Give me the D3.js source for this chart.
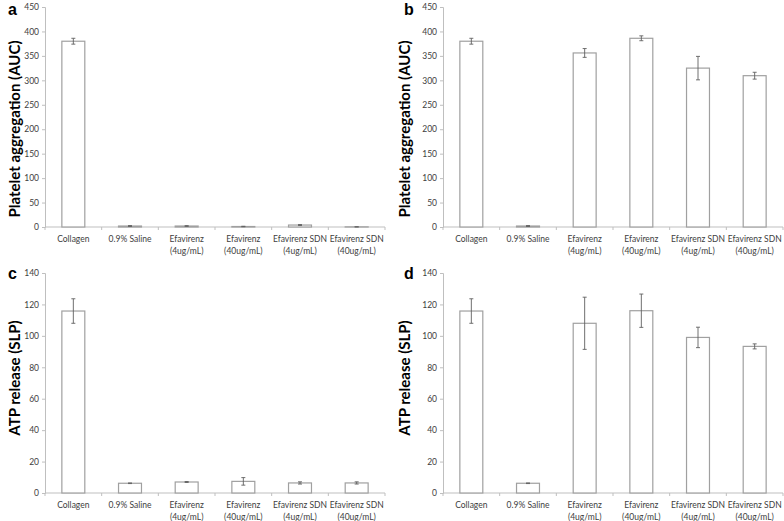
<!DOCTYPE html>
<html>
<head>
<meta charset="utf-8">
<script src="https://cdn.jsdelivr.net/npm/d3@7/dist/d3.min.js"></script>
<style>
  html, body { margin: 0; padding: 0; background: #fff; }
  svg { display: block; }
</style>
</head>
<body>
<svg id="chart" width="784" height="521"></svg>
<script>
// ---- Data ----
const categories = [
  ["Collagen"],
  ["0.9% Saline"],
  ["Efavirenz", "(4ug/mL)"],
  ["Efavirenz", "(40ug/mL)"],
  ["Efavirenz SDN", "(4ug/mL)"],
  ["Efavirenz SDN", "(40ug/mL)"]
];
const aggregationA = [380, 2, 2, 1, 4, 0.3];
const aggregationAErr = [6, 1, 0.8, 0.5, 1, 0.2];
const aggregationB = [380, 2, 356, 386, 325, 309.5];
const aggregationBErr = [6, 1, 9, 5, 24, 7];
const atpC = [115.8, 6.2, 7, 7.4, 6.4, 6.4];
const atpCErr = [7.8, 0.2, 0.3, 2.4, 0.7, 0.7];
const atpD = [115.8, 6.2, 108, 116, 99, 93.3];
const atpDErr = [7.8, 0.2, 16.6, 10.6, 6.5, 1.6];
const aggTicks = [0, 50, 100, 150, 200, 250, 300, 350, 400, 450];
const atpTicks = [0, 20, 40, 60, 80, 100, 120, 140];
const aggTitle = "Platelet aggregation (AUC)";
const atpTitle = "ATP release (SLP)";

// ---- Drawing ----
const svg = d3.select("#chart");
const FONT = "Lato, 'Liberation Sans', Arial, sans-serif";
const panels = [
  {letter: "a", values: aggregationA, errs: aggregationAErr, ticks: aggTicks, title: aggTitle,
   left: 45, right: 385, top: 7, bottom: 227, titleX: 15, titleY: 129, letterX: 8, letterY: 15},
  {letter: "b", values: aggregationB, errs: aggregationBErr, ticks: aggTicks, title: aggTitle,
   left: 443, right: 783, top: 7, bottom: 227, titleX: 405, titleY: 129, letterX: 404, letterY: 15},
  {letter: "c", values: atpC, errs: atpCErr, ticks: atpTicks, title: atpTitle,
   left: 45, right: 385, top: 273, bottom: 493, titleX: 15, titleY: 378, letterX: 8, letterY: 279},
  {letter: "d", values: atpD, errs: atpDErr, ticks: atpTicks, title: atpTitle,
   left: 443, right: 783, top: 273, bottom: 493, titleX: 405, titleY: 378, letterX: 404, letterY: 279}
];

panels.forEach(p => {
  const g = svg.append("g");
  const keys = categories.map(c => c.join(" "));
  const pad = 0.595;
  const x = d3.scaleBand().domain(keys).range([p.left, p.right])
    .paddingInner(pad).paddingOuter(pad / 2);
  const y = d3.scaleLinear().domain([0, d3.max(p.ticks)]).range([p.bottom, p.top]);
  const step = x.step();

  // y axis
  const yAxis = d3.axisLeft(y).tickValues(p.ticks).tickSize(3).tickPadding(3);
  const ya = g.append("g").attr("transform", `translate(${p.left},0)`).call(yAxis);
  ya.select(".domain").attr("stroke", "#bfbfbf");
  ya.selectAll(".tick line").attr("stroke", "#bfbfbf");
  ya.selectAll(".tick text").attr("fill", "#404040").style("font-family", FONT).style("font-size", "8.5px");

  // x axis line + boundary ticks
  g.append("line").attr("x1", p.left).attr("x2", p.right).attr("y1", p.bottom).attr("y2", p.bottom)
    .attr("stroke", "#bfbfbf");
  d3.range(categories.length + 1).forEach(i => {
    const xx = p.left + i * step;
    g.append("line").attr("x1", xx).attr("x2", xx).attr("y1", p.bottom).attr("y2", p.bottom + 3)
      .attr("stroke", "#bfbfbf");
  });

  // bars
  g.selectAll("rect.bar").data(p.values).enter().append("rect")
    .attr("class", "bar")
    .attr("x", (d, i) => x(keys[i]))
    .attr("width", x.bandwidth())
    .attr("y", d => y(d))
    .attr("height", d => p.bottom - y(d))
    .attr("fill", "#fff")
    .attr("stroke", "#a0a0a0")
    .attr("stroke-width", 1.2);

  // error bars
  const eg = g.selectAll("g.err").data(p.values).enter().append("g").attr("class", "err");
  const cx = i => x(keys[i]) + x.bandwidth() / 2;
  eg.append("line")
    .attr("x1", (d, i) => cx(i)).attr("x2", (d, i) => cx(i))
    .attr("y1", (d, i) => y(d + p.errs[i])).attr("y2", (d, i) => y(Math.max(0, d - p.errs[i])))
    .attr("stroke", "#606060").attr("stroke-width", 0.9);
  eg.append("line")
    .attr("x1", (d, i) => cx(i) - 2).attr("x2", (d, i) => cx(i) + 2)
    .attr("y1", (d, i) => y(d + p.errs[i])).attr("y2", (d, i) => y(d + p.errs[i]))
    .attr("stroke", "#606060").attr("stroke-width", 0.9);
  eg.append("line")
    .attr("x1", (d, i) => cx(i) - 2).attr("x2", (d, i) => cx(i) + 2)
    .attr("y1", (d, i) => y(Math.max(0, d - p.errs[i]))).attr("y2", (d, i) => y(Math.max(0, d - p.errs[i])))
    .attr("stroke", "#606060").attr("stroke-width", 0.9);

  // category labels
  categories.forEach((lines, i) => {
    const t = g.append("text")
      .attr("x", cx(i))
      .attr("y", p.bottom + 15)
      .attr("text-anchor", "middle")
      .attr("fill", "#404040")
      .style("font-family", FONT).style("font-size", "8.5px");
    lines.forEach((ln, j) => {
      t.append("tspan").attr("x", cx(i)).attr("dy", j === 0 ? 0 : 11.5).text(ln);
    });
  });

  // y title
  g.append("text")
    .attr("transform", `translate(${p.titleX + 5},${p.titleY}) rotate(-90)`)
    .attr("text-anchor", "middle")
    .attr("fill", "#000")
    .style("font-family", FONT).style("font-weight", "bold").style("font-size", "15px")
    .text(p.title);

  // panel letter
  g.append("text")
    .attr("x", p.letterX).attr("y", p.letterY)
    .attr("fill", "#000")
    .style("font-family", "'Liberation Sans', Arial, sans-serif").style("font-weight", "bold").style("font-size", "16px")
    .text(p.letter);
});
</script>
</body>
</html>
